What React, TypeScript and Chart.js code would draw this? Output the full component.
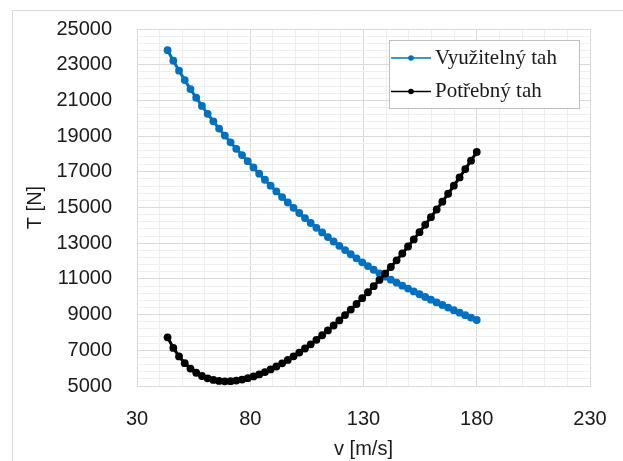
import React, { useEffect, useRef } from 'react';
import { Chart, registerables } from 'chart.js';

Chart.register(...registerables);

// Speed v [m/s]
const speeds = [
  43.5, 46.03, 48.56, 51.08, 53.61, 56.14, 58.67, 61.19, 63.72, 66.25,
  68.78, 71.31, 73.83, 76.36, 78.89, 81.42, 83.94, 86.47, 89.0, 91.53,
  94.06, 96.58, 99.11, 101.64, 104.17, 106.69, 109.22, 111.75, 114.28, 116.81,
  119.33, 121.86, 124.39, 126.92, 129.44, 131.97, 134.5, 137.03, 139.56, 142.08,
  144.61, 147.14, 149.67, 152.19, 154.72, 157.25, 159.78, 162.31, 164.83, 167.36,
  169.89, 172.42, 174.94, 177.47, 180.0,
];

// Využitelný tah [N]
const availableThrust = [
  23814, 23224, 22665, 22136, 21632, 21149, 20689, 20249, 19826, 19419,
  19028, 18650, 18288, 17937, 17596, 17247, 16896, 16554, 16222, 15898,
  15585, 15281, 14982, 14691, 14408, 14133, 13863, 13601, 13345, 13095,
  12853, 12613, 12380, 12150, 11927, 11717, 11512, 11310, 11125, 10954,
  10786, 10620, 10458, 10299, 10141, 9987, 9834, 9684, 9537, 9391,
  9248, 9108, 8969, 8833, 8697,
];

// Potřebný tah [N]
const requiredThrust = [
  7726, 7135, 6659, 6280, 5977, 5741, 5561, 5429, 5339, 5285,
  5264, 5271, 5304, 5360, 5438, 5535, 5650, 5782, 5930, 6093,
  6269, 6458, 6661, 6875, 7101, 7337, 7585, 7843, 8111, 8390,
  8676, 8973, 9280, 9595, 9918, 10251, 10593, 10943, 11301, 11667,
  12041, 12424, 12815, 13213, 13620, 14035, 14457, 14887, 15324, 15769,
  16222, 16683, 17150, 17626, 18109,
];

const seriesNames = ['Využitelný tah', 'Potřebný tah'];
const seriesColors = ['#0070C0', '#000000'];

const xTickLabels = [30, 80, 130, 180, 230];
const yTickLabels = [5000, 7000, 9000, 11000, 13000, 15000, 17000, 19000, 21000, 23000, 25000];
const xMinorStep = 10;
const yMinorStep = 400;

const xTitle = 'v [m/s]';
const yTitle = 'T [N]';

const TEXT = '#1a1a1a';
const MAJOR_GRID = '#d9d9d9';
const MINOR_GRID = '#efefef';

function range(min: number, max: number, step: number): number[] {
  const out: number[] = [];
  const n = Math.round((max - min) / step);
  for (let i = 0; i <= n; i++) out.push(min + i * step);
  return out;
}

export default function App() {
  const ref = useRef<HTMLCanvasElement>(null);

  useEffect(() => {
    document.body.style.margin = '0';
    const canvas = ref.current;
    if (!canvas) return;

    const xMin = xTickLabels[0];
    const xMax = xTickLabels[xTickLabels.length - 1];
    const yMin = yTickLabels[0];
    const yMax = yTickLabels[yTickLabels.length - 1];
    const xTicks = range(xMin, xMax, xMinorStep);
    const yTicks = range(yMin, yMax, yMinorStep);

    const axisFont = { family: '"Liberation Sans", Arial, sans-serif', size: 20 };

    const framePlugin = {
      id: 'frame',
      beforeDraw(chart: any) {
        const ctx = chart.ctx;
        ctx.save();
        ctx.fillStyle = '#ffffff';
        ctx.fillRect(0, 0, chart.width, chart.height);
        ctx.strokeStyle = '#d9d9d9';
        ctx.lineWidth = 1;
        ctx.beginPath();
        ctx.moveTo(12.5, chart.height);
        ctx.lineTo(12.5, 10.5);
        ctx.lineTo(chart.width, 10.5);
        ctx.stroke();
        ctx.restore();
      },
      afterDraw(chart: any) {
        const ctx = chart.ctx;
        const left = 389.5;
        const top = 40.5;
        const w = 190;
        const h = 68;
        ctx.save();
        ctx.fillStyle = '#ffffff';
        ctx.fillRect(left, top, w, h);
        ctx.strokeStyle = '#bfbfbf';
        ctx.lineWidth = 1;
        ctx.strokeRect(left, top, w, h);
        const rows = [58, 91.5];
        seriesNames.forEach((name, i) => {
          const y = rows[i];
          ctx.strokeStyle = seriesColors[i];
          ctx.lineWidth = 1.5;
          ctx.beginPath();
          ctx.moveTo(391, y);
          ctx.lineTo(431, y);
          ctx.stroke();
          ctx.fillStyle = seriesColors[i];
          ctx.beginPath();
          ctx.arc(411, y, 2.8, 0, Math.PI * 2);
          ctx.fill();
          ctx.fillStyle = TEXT;
          ctx.font = '21px "Liberation Serif", "Times New Roman", serif';
          ctx.textBaseline = 'middle';
          ctx.textAlign = 'left';
          ctx.fillText(name, 435, y);
        });
        ctx.restore();
      },
    };

    const chart = new Chart(canvas, {
      type: 'line',
      data: {
        datasets: [
          {
            label: seriesNames[0],
            data: speeds.map((v, i) => ({ x: v, y: availableThrust[i] })),
            borderColor: seriesColors[0],
            backgroundColor: seriesColors[0],
            pointBackgroundColor: seriesColors[0],
            pointBorderWidth: 0,
            pointRadius: 3.9,
            borderWidth: 3,
            order: 1,
          },
          {
            label: seriesNames[1],
            data: speeds.map((v, i) => ({ x: v, y: requiredThrust[i] })),
            borderColor: seriesColors[1],
            backgroundColor: seriesColors[1],
            pointBackgroundColor: seriesColors[1],
            pointBorderWidth: 0,
            pointRadius: 3.9,
            borderWidth: 3,
            order: 0,
          },
        ],
      },
      options: {
        responsive: false,
        animation: false,
        layout: { padding: { left: 0, top: 29, right: 33, bottom: 0 } },
        plugins: {
          legend: { display: false },
          tooltip: { enabled: false },
        },
        scales: {
          x: {
            type: 'linear',
            min: xMin,
            max: xMax,
            afterBuildTicks: (s: any) => {
              s.ticks = xTicks.map((v) => ({ value: v }));
            },
            afterFit: (s: any) => {
              s.height = 75;
              s.paddingLeft = 0;
              s.paddingRight = 0;
            },
            ticks: {
              autoSkip: false,
              maxRotation: 0,
              padding: 21,
              font: axisFont,
              color: TEXT,
              callback: (v: any) => (xTickLabels.includes(Number(v)) ? String(v) : ''),
            },
            grid: {
              drawTicks: false,
              lineWidth: 1,
              color: (c: any) => (xTickLabels.includes(c.tick?.value) ? MAJOR_GRID : MINOR_GRID),
            },
            border: { color: MAJOR_GRID, width: 1 },
            title: {
              display: true,
              text: xTitle,
              font: axisFont,
              color: TEXT,
              padding: { top: 0, bottom: 0 },
            },
          },
          y: {
            type: 'linear',
            min: yMin,
            max: yMax,
            afterBuildTicks: (s: any) => {
              s.ticks = yTicks.map((v) => ({ value: v }));
            },
            afterFit: (s: any) => {
              s.width = 137;
              s.paddingTop = 0;
              s.paddingBottom = 0;
            },
            ticks: {
              autoSkip: false,
              padding: 25,
              font: axisFont,
              color: TEXT,
              callback: (v: any) => (yTickLabels.includes(Number(v)) ? String(v) : ''),
            },
            grid: {
              drawTicks: false,
              lineWidth: 1,
              color: (c: any) => (yTickLabels.includes(c.tick?.value) ? MAJOR_GRID : MINOR_GRID),
            },
            border: { color: MAJOR_GRID, width: 1 },
            title: {
              display: true,
              text: yTitle,
              font: axisFont,
              color: TEXT,
              padding: { top: 23, bottom: 0 },
            },
          },
        },
      },
      plugins: [framePlugin],
    } as any);

    return () => chart.destroy();
  }, []);

  return <canvas ref={ref} width={623} height={461} style={{ display: 'block' }} />;
}
